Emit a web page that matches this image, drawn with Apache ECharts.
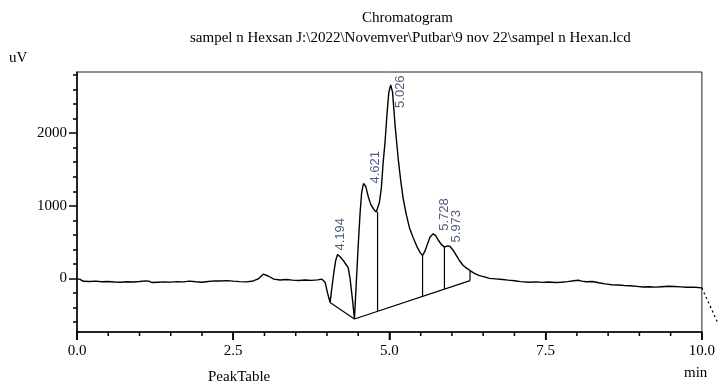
<!DOCTYPE html>
<html>
<head>
<meta charset="utf-8">
<script src="https://cdn.jsdelivr.net/npm/echarts@6.0.0/dist/echarts.min.js"></script>
<style>
html,body{margin:0;padding:0;background:#fff;}
#chart{width:718px;height:385px;}
</style>
</head>
<body>
<div id="chart"></div>
<script>
// ---- data ----
const traceTime = [0.00,0.05,0.10,0.20,0.30,0.40,0.50,0.60,0.70,0.80,0.90,1.00,1.10,1.15,1.20,1.30,1.40,1.50,1.60,1.70,1.80,1.90,2.00,2.10,2.20,2.30,2.40,2.50,2.60,2.70,2.80,2.90,2.98,3.06,3.15,3.25,3.35,3.45,3.55,3.65,3.75,3.85,3.92,3.97,4.01,4.05,4.08,4.11,4.14,4.17,4.21,4.26,4.30,4.34,4.37,4.41,4.44,4.47,4.50,4.53,4.555,4.585,4.62,4.66,4.70,4.75,4.79,4.81,4.84,4.87,4.90,4.93,4.96,4.99,5.02,5.05,5.09,5.14,5.18,5.22,5.27,5.32,5.38,5.44,5.49,5.53,5.57,5.61,5.65,5.70,5.74,5.78,5.83,5.88,5.93,5.97,6.02,6.07,6.12,6.18,6.24,6.29,6.36,6.44,6.52,6.60,6.70,6.81,6.90,7.00,7.10,7.24,7.35,7.45,7.55,7.65,7.75,7.85,7.95,8.02,8.08,8.15,8.25,8.35,8.45,8.56,8.66,8.76,8.86,8.96,9.06,9.16,9.26,9.36,9.46,9.56,9.66,9.76,9.86,9.94,10.00];
const traceValue = [-5,-12,-38,-40,-36,-44,-41,-48,-50,-44,-47,-40,-32,-36,-55,-50,-46,-49,-42,-46,-36,-45,-50,-40,-32,-34,-28,-36,-42,-46,-38,-5,60,35,-8,-20,-14,-22,-26,-20,-25,-18,-8,-50,-200,-330,-120,80,250,331,300,250,200,150,0,-300,-556,-50,450,900,1180,1306,1270,1130,1020,950,915,914,1050,1240,1600,1880,2250,2560,2662,2560,2110,1650,1350,1100,880,700,560,440,360,317,380,480,570,616,590,530,470,432,450,440,390,320,248,180,140,110,72,41,22,2,-5,-14,-22,-30,-42,-50,-46,-52,-48,-55,-50,-42,-30,-24,-36,-44,-40,-58,-74,-86,-88,-95,-100,-108,-116,-113,-118,-112,-106,-110,-114,-120,-118,-124,-128];
// trace continuing past the end of the time window (dotted)
const tailTime = [10.00, 10.27];
const tailValue = [-128, -640];
// integration baseline
const baseTime = [4.05, 4.44, 6.29];
const baseValue = [-330, -556, -28];
// peak separation drop lines
const dropTime = [4.81, 5.53, 5.88, 6.29];
const dropTop = [914, 317, 432, 110];
const dropBottom = [-450, -244, -145, -28];
// peak labels
const peakLabels = ['4.194', '4.621', '5.026', '5.728', '5.973'];
const peakTime = [4.194, 4.621, 5.026, 5.728, 5.973];
const peakHeight = [331, 1306, 2662, 616, 455];
// axes
const xMajorTicks = [0, 2.5, 5, 7.5, 10];
const xMinorTicks = [0.5,1,1.5,2,3,3.5,4,4.5,5.5,6,6.5,7,8,8.5,9,9.5];
const yMajorTicks = [0, 1000, 2000];
const yMinorTicks = [-600,-400,-200,200,400,600,800,1200,1400,1600,1800,2200,2400,2600,2800];
const Y_MIN = -735, Y_MAX = 2840;

// ---- styling (not data) ----
const labelNudge = [[1,-4],[10,0],[9,23],[9,-3],[6,-3]];
const SERIF = 'Liberation Serif';
const tick = () => ({color: '#000', width: 1.5});

const zip = (a, b) => a.map((v, i) => [v, b[i]]);

const series = [
  {
    type: 'line', data: zip(traceTime, traceValue), symbol: 'none',
    lineStyle: {color: '#000', width: 1.4}, silent: true, z: 3
  },
  {
    type: 'line', data: zip(baseTime, baseValue), symbol: 'none',
    lineStyle: {color: '#000', width: 1.2}, silent: true
  }
];
dropTime.forEach((t, i) => {
  series.push({
    type: 'line', data: [[t, dropTop[i]], [t, dropBottom[i]]], symbol: 'none',
    lineStyle: {color: '#000', width: 1.2}, silent: true
  });
});
series.push({
  type: 'scatter', symbolSize: 0, silent: true, z: 5,
  data: peakTime.map((t, i) => ({
    value: [t, peakHeight[i]],
    name: peakLabels[i],
    label: {position: labelNudge[i]}
  })),
  label: {
    show: true, formatter: p => p.name, rotate: 90,
    align: 'left', verticalAlign: 'middle',
    fontFamily: 'Liberation Sans', fontSize: 13, color: '#22355e'
  }
});

const baseGraphic = [
  {type: 'text', left: 9, top: 51, style: {text: 'uV', font: '15px "Liberation Serif"', fill: '#000'}},
  {type: 'text', left: 208, top: 370, style: {text: 'PeakTable', font: '15px "Liberation Serif"', fill: '#000'}},
  {type: 'text', left: 684, top: 366, style: {text: 'min', font: '15px "Liberation Serif"', fill: '#000'}}
];

const chart = echarts.init(document.getElementById('chart'), null, {renderer: 'canvas'});
chart.setOption({
  animation: false,
  backgroundColor: '#fff',
  title: [
    {text: 'Chromatogram', left: 362, top: 11, padding: 0,
     textStyle: {fontFamily: SERIF, fontSize: 15, fontWeight: 'normal', color: '#000'}},
    {text: 'sampel n Hexsan J:\\2022\\Novemver\\Putbar\\9 nov 22\\sampel n Hexan.lcd', left: 190, top: 31, padding: 0,
     textStyle: {fontFamily: SERIF, fontSize: 15, fontWeight: 'normal', color: '#000'}}
  ],
  graphic: baseGraphic,
  grid: {left: 77, right: 16, top: 72, bottom: 53, show: true, borderColor: '#222', borderWidth: 1, backgroundColor: 'transparent'},
  xAxis: {
    type: 'value', min: 0, max: 10, position: 'bottom',
    axisLine: {show: true, onZero: false, lineStyle: tick()},
    axisTick: {show: true, length: 8, customValues: xMajorTicks, lineStyle: tick()},
    splitLine: {show: false},
    axisLabel: {margin: 12, customValues: xMajorTicks, fontFamily: SERIF, fontSize: 15, color: '#000',
      formatter: v => v.toFixed(1)}
  },
  yAxis: [
    {
      type: 'value', min: Y_MIN, max: Y_MAX, position: 'left',
      axisLine: {show: true, onZero: false, lineStyle: tick()},
      axisTick: {show: true, length: 8, customValues: yMajorTicks, lineStyle: tick()},
      splitLine: {show: false},
      axisLabel: {margin: 10, customValues: yMajorTicks, fontFamily: SERIF, fontSize: 15, color: '#000',
        formatter: v => String(v)}
    },
    {
      type: 'value', min: Y_MIN, max: Y_MAX, position: 'left',
      axisLine: {show: false, onZero: false},
      axisTick: {show: true, length: 4, customValues: yMinorTicks, lineStyle: tick()},
      splitLine: {show: false},
      axisLabel: {show: false}
    }
  ],
  series: series
});

// positions resolved through the chart's own scales
const px = p => chart.convertToPixel({xAxisIndex: 0, yAxisIndex: 0}, p);
const tailPts = zip(tailTime, tailValue).map(px);
const tickMarks = xMajorTicks.map(v => [v, 8]).concat(xMinorTicks.map(v => [v, 4])).map(([v, len]) => {
  const p = px([v, Y_MIN]);
  return {type: 'line', silent: true, z: 100, shape: {x1: p[0], y1: p[1], x2: p[0], y2: p[1] + len},
          style: {stroke: '#000', lineWidth: 1.5}};
});
chart.setOption({
  graphic: baseGraphic.concat(tickMarks, [
    {type: 'polyline', silent: true, shape: {points: tailPts},
     style: {stroke: '#000', lineWidth: 1.3, lineDash: [2, 3], fill: null}}
  ])
}, {replaceMerge: ['graphic']});
</script>
</body>
</html>
